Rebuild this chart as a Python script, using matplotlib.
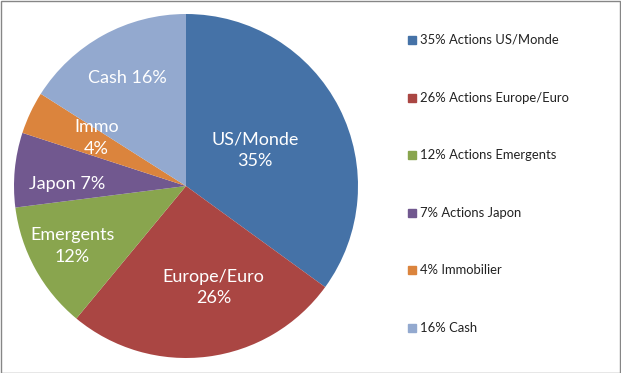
import matplotlib.pyplot as plt
from matplotlib.patches import Rectangle

plt.rcParams['font.family'] = ['Lato', 'DejaVu Sans']

# data
shares = [35, 26, 12, 7, 4, 16]
slice_labels = ['US/Monde\n35%', 'Europe/Euro\n26%', 'Emergents\n12%',
                'Japon 7%', 'Immo\n4%', 'Cash 16%']
legend_labels = ['35% Actions US/Monde', '26% Actions Europe/Euro',
                 '12% Actions Emergents', '7% Actions Japon',
                 '4% Immobilier', '16% Cash']
colors = ['#4572A7', '#AA4643', '#89A54E', '#71588F', '#DB843D', '#93A9CF']

# label positions inside the pie (in units of radius)
label_pos = [(0.40, 0.21), (0.16, -0.59), (-0.66, -0.35),
             (-0.69, 0.01), (-0.52, 0.28), (-0.34, 0.63)]

W, H = 621, 373
fig = plt.figure(figsize=(W / 100, H / 100), dpi=100)

# pie axes: centre at (186, 186) px, radius 172 px
cx, cy, r = 186, 186, 172
ax = fig.add_axes([(cx - r) / W, (H - cy - r) / H, 2 * r / W, 2 * r / H])
ax.pie(shares, colors=colors, startangle=90, counterclock=False,
       radius=1, wedgeprops=dict(linewidth=0))
ax.set_xlim(-1, 1)
ax.set_ylim(-1, 1)
ax.set_aspect('equal')
ax.axis('off')

for (x, y), lab in zip(label_pos, slice_labels):
    ax.text(x, y, lab, color='white', fontsize=13, ha='center', va='center',
            linespacing=1.42)

# legend drawn by hand to match the wide spacing
for i, (lab, col) in enumerate(zip(legend_labels, colors)):
    ypx = 40 + i * 57.6
    fig.patches.append(Rectangle((408 / W, 1 - (ypx + 4) / H), 8 / W, 8 / H,
                                 transform=fig.transFigure, color=col))
    fig.text(420 / W, 1 - ypx / H, lab, fontsize=9.4, va='center', ha='left',
             color='#222222')

# grey frame around the chart
fig.patches.append(Rectangle((0.5 / W, 0.5 / H), 1 - 1.5 / W, 1 - 1.5 / H,
                             transform=fig.transFigure, fill=False,
                             edgecolor='#868686', linewidth=1))

plt.savefig('out.png', dpi=100)
